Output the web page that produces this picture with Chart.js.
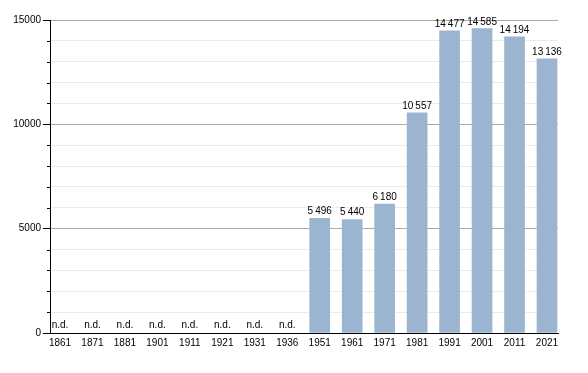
<!DOCTYPE html>
<html><head><meta charset="utf-8">
<script src="https://cdn.jsdelivr.net/npm/chart.js@4.4.1/dist/chart.umd.min.js"></script>
<style>html,body{margin:0;padding:0;background:#fff}#wrap{width:588px;height:373px}</style>
</head><body><div id="wrap"><canvas id="c" width="588" height="373"></canvas></div>
<script>
const years = ['1861','1871','1881','1901','1911','1921','1931','1936','1951','1961','1971','1981','1991','2001','2011','2021'];
const population = [null,null,null,null,null,null,null,null,5496,5440,6180,10557,14477,14585,14194,13136];
const yTicks = [0,5000,10000,15000];
const missingLabel = 'n.d.';

const FONT = '10px "Liberation Sans", Arial, sans-serif';
function fmt(v){ return String(v).replace(/\B(?=(\d{3})+(?!\d))/g, '\u2009'); }

const labelsPlugin = {
  id: 'vals',
  afterDatasetsDraw(chart){
    const ctx = chart.ctx;
    const meta = chart.getDatasetMeta(0);
    const ys = chart.scales.y;
    ctx.save();
    ctx.font = FONT;
    ctx.fillStyle = '#000';
    ctx.textAlign = 'center';
    ctx.textBaseline = 'alphabetic';
    meta.data.forEach((el, i) => {
      const v = population[i];
      const x = chart.scales.x.getPixelForValue(i);
      if (v === null) {
        ctx.fillText(missingLabel, x, ys.getPixelForValue(0) - 5);
      } else {
        ctx.fillText(fmt(v), x, ys.getPixelForValue(v) - 4);
      }
    });
    ctx.restore();
  },
  afterDraw(chart){
    const ctx = chart.ctx, ys = chart.scales.y;
    ctx.save();
    ctx.strokeStyle = '#000';
    ctx.lineWidth = 1;
    ys.ticks.forEach(t => {
      if (t.value % 5000 !== 0) {
        const y = Math.round(ys.getPixelForValue(t.value)) + 0.5;
        ctx.beginPath();
        ctx.moveTo(ys.right - 3, y);
        ctx.lineTo(ys.right, y);
        ctx.stroke();
      }
    });
    ctx.restore();
  }
};

new Chart(document.getElementById('c'), {
  type: 'bar',
  data: {
    datasets: [{
      data: population.map((v, i) => ({x: i, y: v})),
      backgroundColor: '#9bb4cf',
      borderWidth: 0,
      barThickness: 20
    }]
  },
  options: {
    responsive: false,
    animation: false,
    events: [],
    layout: {padding: {top: 20, right: 30, left: 0, bottom: 0}},
    plugins: {legend: {display: false}, tooltip: {enabled: false}},
    scales: {
      x: {
        type: 'linear',
        offset: false,
        min: -0.308,
        max: 15.339,
        grid: {display: false, drawTicks: false, tickLength: 0},
        border: {display: true, color: '#000', width: 1},
        afterBuildTicks(scale){ scale.ticks = years.map((_, i) => ({value: i})); },
        afterFit(scale){ scale.height = 40; },
        ticks: {
          autoSkip: false,
          maxRotation: 0,
          padding: 4,
          color: '#000',
          font: {family: '"Liberation Sans", Arial, sans-serif', size: 10},
          callback: (v) => years[v]
        }
      },
      y: {
        min: 0,
        max: 15000,
        afterBuildTicks(scale){
          const t = [];
          for (let v = 0; v <= 15000; v += 1000) t.push({value: v});
          scale.ticks = t;
        },
        afterFit(scale){ scale.width = 50; },
        border: {display: true, color: '#000', width: 1},
        grid: {
          color: (c) => (c.tick && c.tick.value % 5000 === 0) ? (c.tick.value === 0 ? 'rgba(0,0,0,0)' : '#a9a9a9') : '#ebebeb',
          tickColor: (c) => (c.tick && c.tick.value % 5000 === 0) ? '#000' : 'rgba(0,0,0,0)',
          tickLength: 7,
          lineWidth: 1
        },
        ticks: {
          padding: 2,
          color: '#000',
          font: {family: '"Liberation Sans", Arial, sans-serif', size: 10},
          callback: (v) => yTicks.includes(v) ? String(v) : ''
        }
      }
    }
  },
  plugins: [labelsPlugin]
});
</script>
</body></html>
